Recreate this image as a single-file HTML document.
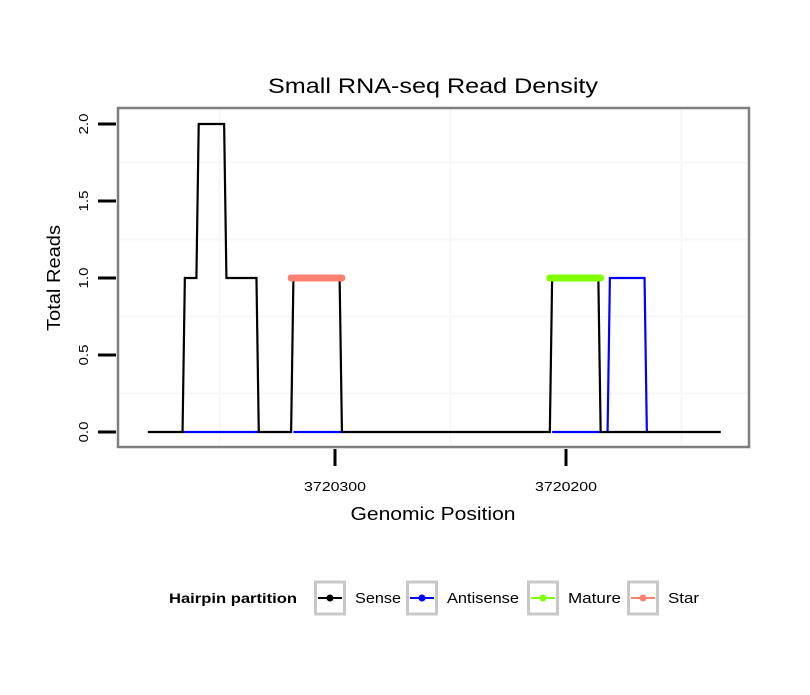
<!DOCTYPE html>
<html><head><meta charset="utf-8"><style>
body{margin:0;background:#fff;font-family:"Liberation Sans",sans-serif}
</style></head><body>
<svg id="chart" width="810" height="690" xmlns="http://www.w3.org/2000/svg" font-family="Liberation Sans, sans-serif">
<rect width="810" height="690" fill="#fff"/>
<text x="433" y="93" font-size="21" text-anchor="middle" textLength="330" lengthAdjust="spacingAndGlyphs">Small RNA-seq Read Density</text>
<g id="grid"></g>
<g id="series"></g>
<rect x="118" y="108" width="631" height="339" fill="none" stroke="#7f7f7f" stroke-width="2.5"/>
<g id="axes"></g>
<text x="433" y="520" font-size="18" text-anchor="middle" textLength="165" lengthAdjust="spacingAndGlyphs">Genomic Position</text>
<text transform="translate(60,278) rotate(-90)" font-size="18" text-anchor="middle" textLength="106" lengthAdjust="spacingAndGlyphs">Total Reads</text>
<g id="legend">
<text x="169" y="603" font-size="14" font-weight="bold" textLength="128" lengthAdjust="spacingAndGlyphs">Hairpin partition</text>
</g>
</svg>
<script>
const senseX=[3720381,3720366,3720365,3720360,3720359,3720348,3720347,3720334,3720333,3720319,3720318,3720298,3720297,3720207,3720206,3720186,3720185,3720133];
const senseY=[0,0,1,1,2,2,1,1,0,0,1,1,0,0,1,1,0,0];
const antiSegX=[[3720366,3720333],[3720318,3720297],[3720206,3720185],[3720182,3720181,3720166,3720165]];
const antiSegY=[[0,0],[0,0],[0,0],[0,1,1,0]];
const starX=[3720319,3720297];const starY=[1,1];
const matureX=[3720207,3720185];const matureY=[1,1];
const yTicks=[0,0.5,1,1.5,2];
const yTickLabels=["0.0","0.5","1.0","1.5","2.0"];
const xTicks=[3720300,3720200];
const xTickLabels=["3720300","3720200"];
const legendLabels=["Sense","Antisense","Mature","Star"];
const legendColors=["#000","#0000ff","#7fff00","#fa8072"];
const legendWidths=[46,72,53,31];

const NS="http://www.w3.org/2000/svg";
const xs=v=>335+(3720300-v)*2.31;
const ys=v=>432-v*154;
function mk(tag,attrs,parent){const e=document.createElementNS(NS,tag);for(const k in attrs)e.setAttribute(k,attrs[k]);parent.appendChild(e);return e;}
const grid=document.getElementById('grid'),ser=document.getElementById('series'),ax=document.getElementById('axes'),lg=document.getElementById('legend');
for(let v=0.25;v<2.2;v+=0.5){const l=mk('line',{x1:118,x2:749,y1:ys(v),y2:ys(v),stroke:'#f7f7f7','stroke-width':2},grid);

}
[3720350,3720250,3720150].forEach(v=>{const l=mk('line',{x1:xs(v),x2:xs(v),y1:108,y2:447,stroke:'#f7f7f7','stroke-width':2},grid);

});
function path(X,Y){return X.map((x,i)=>(i?'L':'M')+xs(x)+','+ys(Y[i])).join('');}
antiSegX.forEach((sx,i)=>{const p=mk('path',{d:path(sx,antiSegY[i]),fill:'none',stroke:'#0000ff','stroke-width':2.2},ser);

});
const sp=mk('path',{d:path(senseX,senseY),fill:'none',stroke:'#000','stroke-width':2.2},ser);


const st=mk('path',{d:path(starX,starY),fill:'none',stroke:'#fa8072','stroke-width':7,'stroke-linecap':'round'},ser);


const mt=mk('path',{d:path(matureX,matureY),fill:'none',stroke:'#7fff00','stroke-width':7,'stroke-linecap':'round'},ser);


yTicks.forEach((v,i)=>{const t=mk('line',{x1:98,x2:116,y1:ys(v),y2:ys(v),stroke:'#000','stroke-width':3},ax);


const tx=mk('text',{transform:`translate(88,${ys(v)}) rotate(-90)`,'font-size':13,'text-anchor':'middle',textLength:21,lengthAdjust:'spacingAndGlyphs'},ax);tx.textContent=yTickLabels[i];

});
xTicks.forEach((v,i)=>{const t=mk('line',{x1:xs(v),x2:xs(v),y1:449,y2:466,stroke:'#000','stroke-width':3},ax);


const tx=mk('text',{x:xs(v),y:491,'font-size':13,'text-anchor':'middle',textLength:62,lengthAdjust:'spacingAndGlyphs'},ax);tx.textContent=xTickLabels[i];

});
const boxX=[314,406,527,627];
legendLabels.forEach((lab,i)=>{const b=boxX[i];
const r=mk('rect',{x:b+1.5,y:582,width:29,height:32,fill:'#fff',stroke:'#c8c8c8','stroke-width':3},lg);


const l=mk('line',{x1:b+4,x2:b+28,y1:598,y2:598,stroke:legendColors[i],'stroke-width':2},lg);


const c=mk('circle',{cx:b+16,cy:598,r:3.5,fill:legendColors[i]},lg);


const t=mk('text',{x:b+41,y:603,'font-size':15,textLength:legendWidths[i],lengthAdjust:'spacingAndGlyphs'},lg);t.textContent=lab;

});
</script>
</body></html>
